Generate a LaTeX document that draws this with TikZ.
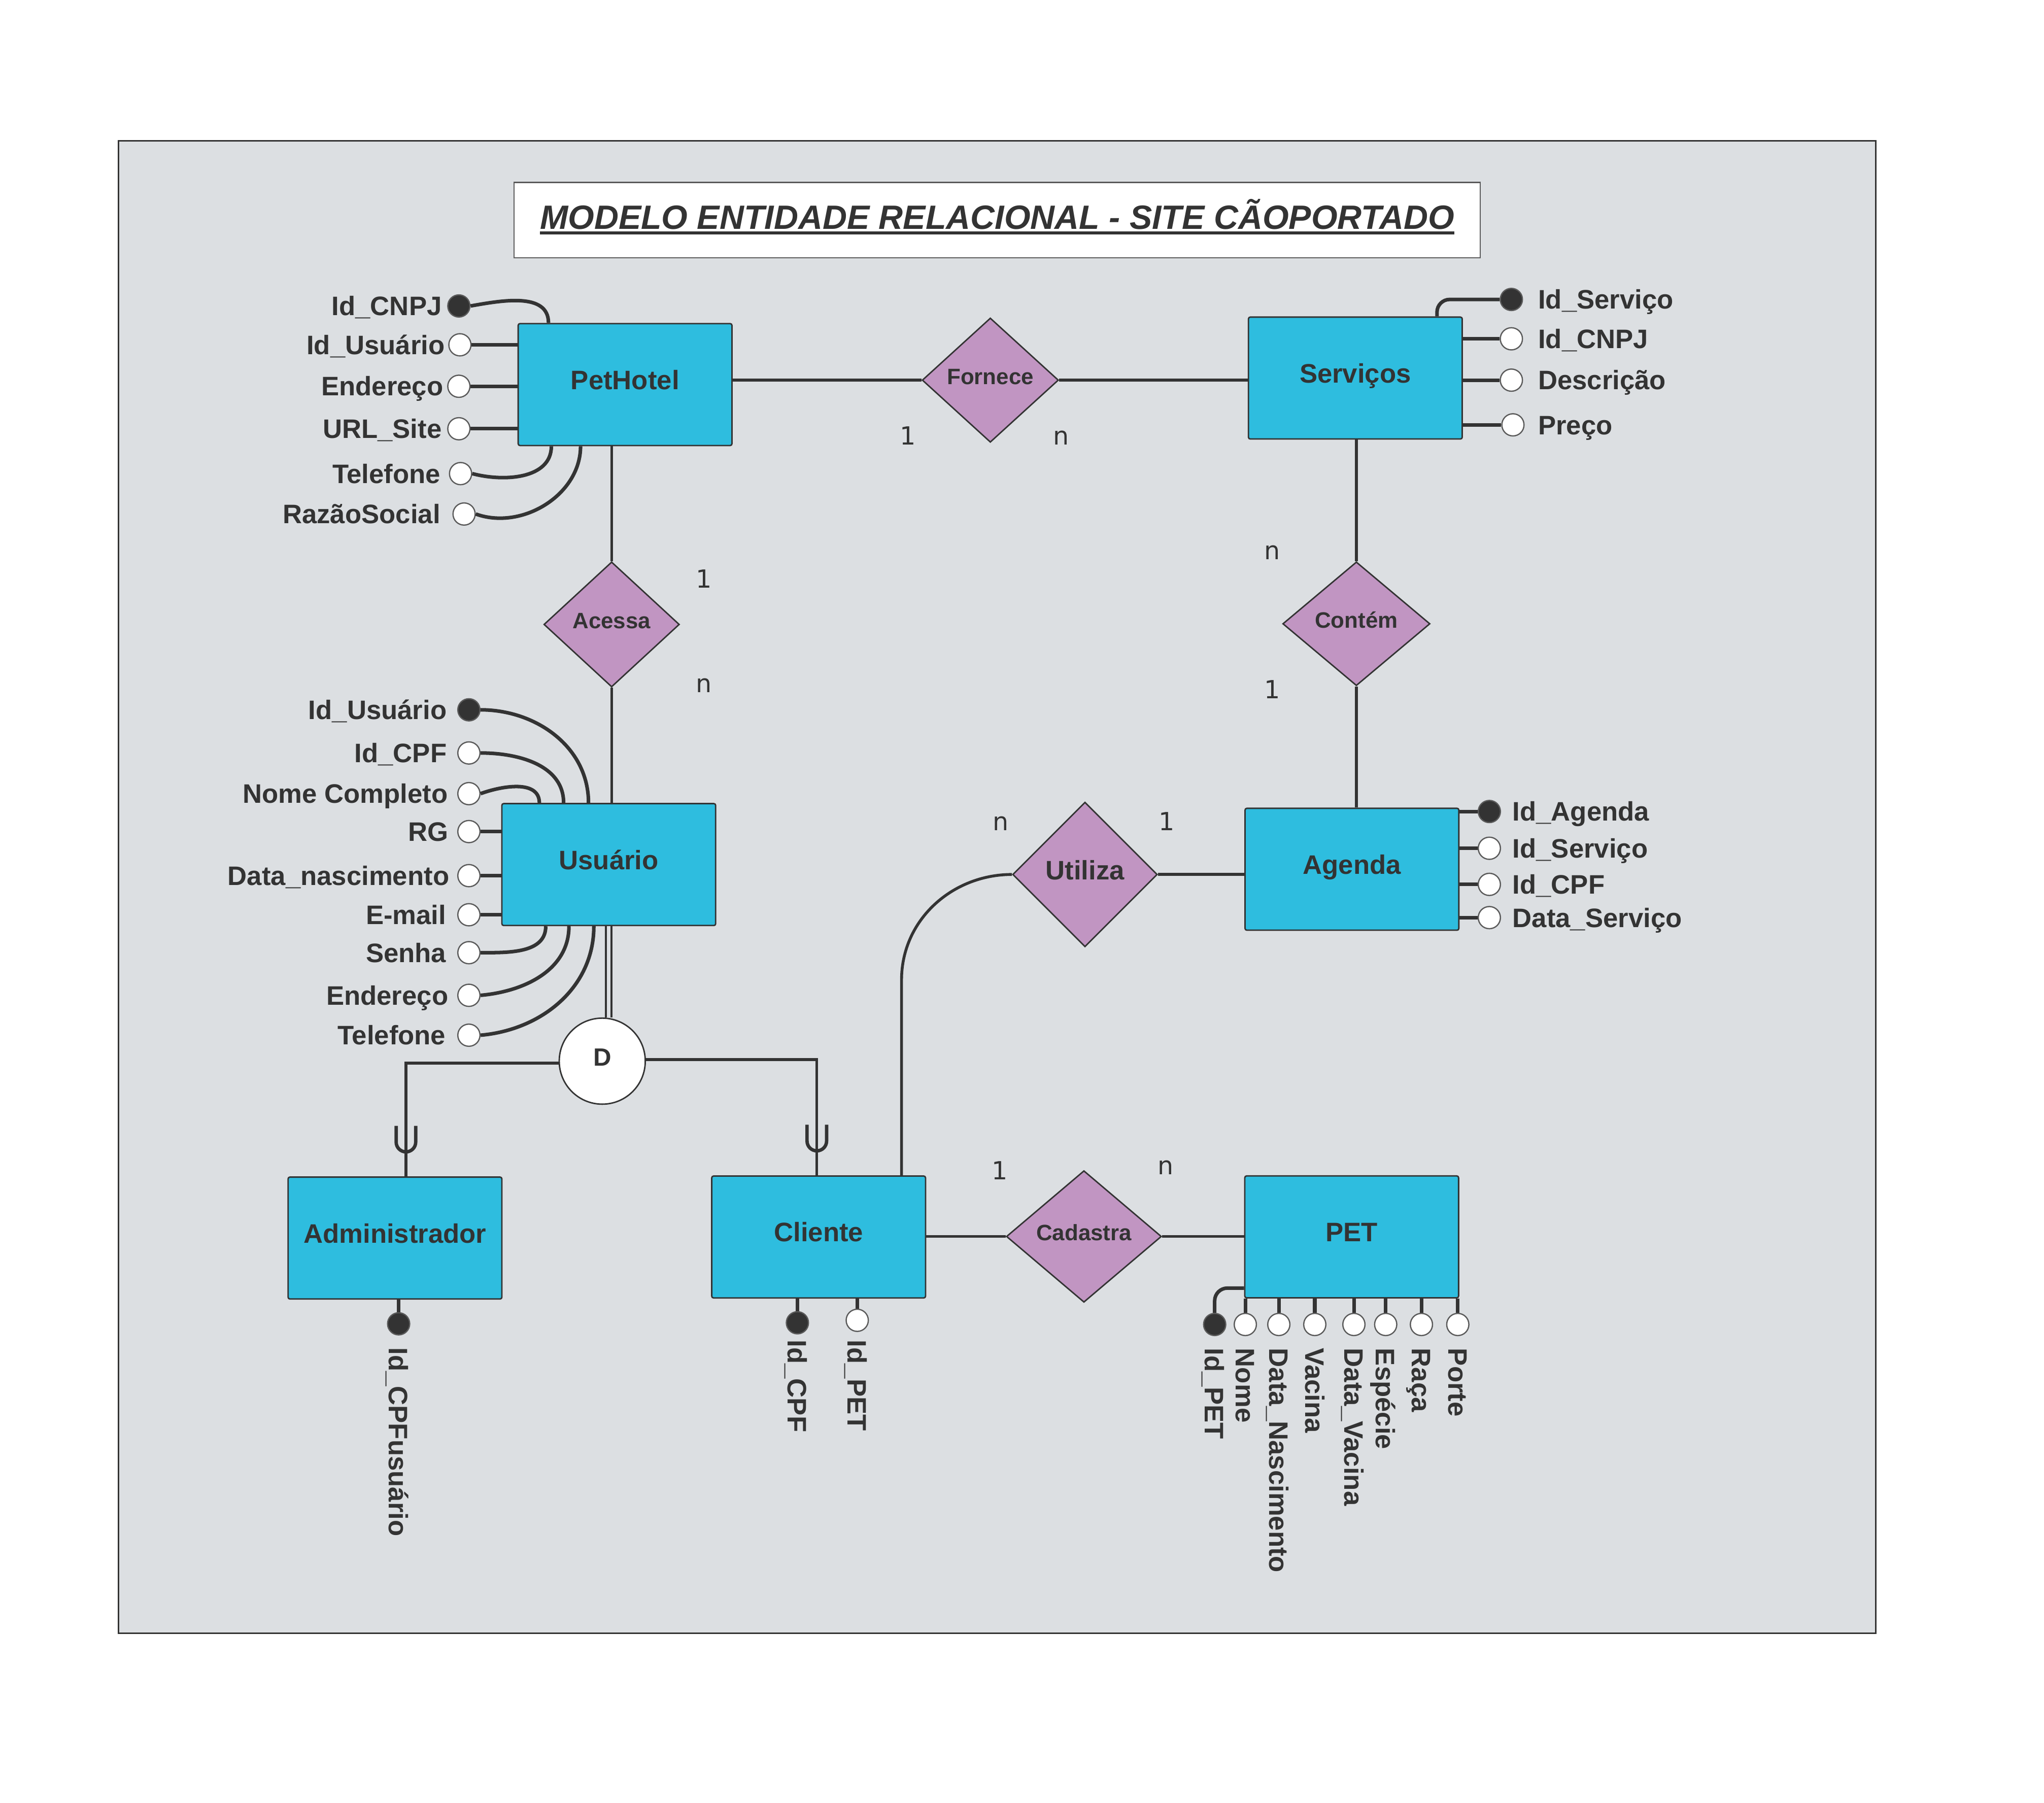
\documentclass[tikz,border=0pt]{standalone}
\usepackage{fontspec}
\setmainfont{Liberation Sans}
\newfontfamily\cardfont{DejaVu Sans}
\usepackage{xcolor}
\usepackage{tikz}
\usetikzlibrary{shapes.geometric, positioning}
\definecolor{panelgray}{RGB}{220,223,226}
\definecolor{entcyan}{RGB}{46,189,223}
\definecolor{relmauve}{RGB}{193,149,194}
\definecolor{inkgray}{RGB}{51,51,51}
\definecolor{rimgray}{RGB}{90,90,90}
\newlength{\pxu}
\setlength{\pxu}{0.02569cm}
\newsavebox{\ulbox}
\newcommand{\thickul}[1]{\sbox{\ulbox}{#1}\rlap{\rule[-0.107cm]{\wd\ulbox}{0.067cm}}\usebox{\ulbox}}
\tikzset{
  entity/.style={rectangle, rounded corners=1pt, draw=inkgray, line width=0.8pt,
                 fill=entcyan, text=inkgray, minimum width=164\pxu, minimum height=93.5\pxu,
                 font=\fontsize{15}{18}\selectfont\bfseries, text height=10.7pt, text depth=5.4pt},
  relation/.style={diamond, draw=inkgray, line width=0.8pt, fill=relmauve, text=inkgray,
                   inner sep=0pt, font=\fontsize{12.5}{15}\selectfont\bfseries,
                   text height=8.9pt, text depth=4.2pt},
  disjoint/.style={circle, draw=inkgray, line width=0.8pt, fill=white, text=inkgray,
                   inner sep=0pt, minimum size=66\pxu,
                   font=\fontsize{14}{17}\selectfont\bfseries, text height=10pt, text depth=4.4pt},
  attr/.style={circle, draw=rimgray, line width=0.7pt, fill=white, inner sep=0pt, minimum size=17\pxu},
  keyattr/.style={attr, fill=inkgray},
  lbl/.style={inner sep=0pt, text=inkgray, font=\fontsize{15}{18}\selectfont\bfseries,
              text height=10.7pt, text depth=0pt},
  vlbl/.style={lbl, rotate=-90, anchor=west},
  card/.style={inner sep=0pt, text=inkgray, anchor=base, font=\cardfont\fontsize{14}{17}\selectfont},
  link/.style={draw=inkgray, line width=1.6pt},
  attrlink/.style={draw=inkgray, line width=2pt},
  subsetmark/.style={draw=inkgray, line width=1.9pt},
  titlebox/.style={rectangle, draw=rimgray, line width=0.7pt, fill=white, text=inkgray,
                   inner sep=0pt, minimum width=741\pxu, minimum height=57.7\pxu,
                   font=\fontsize{18.9}{22}\selectfont\bfseries\itshape,
                   text height=0.465cm, text depth=0.107cm},
}
\begin{document}
\begin{tikzpicture}[x=\pxu, y=\pxu]
    \fill[white] (0,0) rectangle (1568,-1383);
    \useasboundingbox (0,0) rectangle (1568,-1383);
    \draw[fill=panelgray, draw=inkgray, line width=0.8pt] (91,-108) rectangle (1439,-1253);
    \node[titlebox] (ttl) at (764.9,-168.8) {\thickul{MODELO ENTIDADE RELACIONAL - SITE CÃOPORTADO}};

    \node[entity] (ph) at (479.5,-295) {PetHotel};
    \node[entity] (sv) at (1039.7,-290) {Serviços};
    \node[entity] (us) at (467,-663.2) {Usuário};
    \node[entity] (ag) at (1037.1,-666.8) {Agenda};
    \node[entity] (ad) at (303,-949.7) {Administrador};
    \node[entity] (cl) at (628,-948.9) {Cliente};
    \node[entity] (pe) at (1036.9,-948.8) {PET};

    \node[relation, minimum width=104.6\pxu, minimum height=95.4\pxu] (fo) at (759.7,-291.6) {Fornece};
    \node[relation, minimum width=104\pxu, minimum height=96\pxu] (ac) at (469.2,-479) {Acessa};
    \node[relation, minimum width=113\pxu, minimum height=95\pxu] (ct) at (1040.5,-478.5) {Contém};
    \node[relation, minimum width=111\pxu, minimum height=111\pxu, font=\fontsize{15}{18}\selectfont\bfseries,
          text height=10.7pt, text depth=4.8pt] (ut) at (832.3,-670.8) {Utiliza};
    \node[relation, minimum width=119\pxu, minimum height=101\pxu] (ca) at (831.5,-948.5) {Cadastra};
    \node[disjoint] (dd) at (462,-814) {D};

    \draw[link] (fo.west) -- (fo.west -| ph.east);
    \draw[link] (fo.east) -- (fo.east -| sv.west);
    \draw[link] (ac.north) -- (ac.north |- ph.south);
    \draw[link] (ac.south) -- (ac.south |- us.north);
    \draw[link] (ct.north) -- (ct.north |- sv.south);
    \draw[link] (ct.south) -- (ct.south |- ag.north);
    \draw[link] (ut.east) -- (ut.east -| ag.west);
    \draw[link] ([xshift=63.6\pxu]cl.north) -- ++(0,150) to[out=90, in=180] (ut.west);
    \draw[link] (ca.west) -- (ca.west -| cl.east);
    \draw[link] (ca.east) -- (ca.east -| pe.west);
    \draw[link, line width=1.1pt, double=panelgray, double distance=1.9pt] (us.south) -- (us.south |- dd.north);
    \draw[link] ([yshift=-1.4\pxu]dd.west) -| ([xshift=8.4\pxu]ad.north);
    \draw[link] ([yshift=1.2\pxu]dd.east) -| ([xshift=-1.4\pxu]cl.north);
    \coordinate (uad) at ([xshift=8.4\pxu, yshift=38.8\pxu]ad.north);
    \coordinate (ucl) at ([xshift=-1.4\pxu, yshift=38.8\pxu]cl.north);
    \draw[subsetmark] (uad) ++(-7.5,0) -- ++(0,-12.5) arc[start angle=180, end angle=360, radius=7.5] -- ++(0,12.5);
    \draw[subsetmark] (ucl) ++(-7.5,0) -- ++(0,-12.5) arc[start angle=180, end angle=360, radius=7.5] -- ++(0,12.5);

    \node[card] (fo1) at (696.5,-341) {1};
    \node[card] (fon) at (814,-341) {n};
    \node[card] (ac1) at (540,-451) {1};
    \node[card] (acn) at (540,-531) {n};
    \node[card] (ctn) at (976,-429) {n};
    \node[card] (ct1) at (976,-536) {1};
    \node[card] (utn) at (767.5,-637) {n};
    \node[card] (ut1) at (894.9,-637) {1};
    \node[card] (ca1) at (767,-905) {1};
    \node[card] (can) at (894,-901) {n};

    \node[keyattr] (phk) at (352,-234.7) {};
    \node[attr] (ph1) at (352.8,-264.5) {};
    \node[attr] (ph2) at (352,-296.3) {};
    \node[attr] (ph3) at (352,-328.9) {};
    \node[attr] (ph4) at (353.3,-363.3) {};
    \node[attr] (ph5) at (356,-394.3) {};
    \node[lbl, left=0.1cm of phk] (phkt) {Id\_CNPJ};
    \node[lbl, left=0.06cm of ph1] (ph1t) {Id\_Usuário};
    \node[lbl, left=0.07cm of ph2] (ph2t) {Endereço};
    \node[lbl, left=0.1cm of ph3] (ph3t) {URL\_Site};
    \node[lbl, left=0.16cm of ph4] (ph4t) {Telefone};
    \node[lbl, left=0.23cm of ph5] (ph5t) {RazãoSocial};
    \draw[attrlink] (phk.east) to[out=10, in=90] ([xshift=23.8\pxu]ph.north west);
    \draw[attrlink] (ph1.east) -- (ph1.east -| ph.west);
    \draw[attrlink] (ph2.east) -- (ph2.east -| ph.west);
    \draw[attrlink] (ph3.east) -- (ph3.east -| ph.west);
    \draw[attrlink] (ph4.east) to[out=-15, in=-90] ([xshift=26\pxu]ph.south west);
    \draw[attrlink] (ph5.east) to[out=-20, in=-90] ([xshift=48.4\pxu]ph.south west);

    \node[keyattr] (svk) at (1159.4,-229.7) {};
    \node[attr] (sv1) at (1159.4,-259.9) {};
    \node[attr] (sv2) at (1159.4,-291.6) {};
    \node[attr] (sv3) at (1160.6,-325.9) {};
    \node[lbl, right=0.29cm of svk] (svkt) {Id\_Serviço};
    \node[lbl, right=0.29cm of sv1] (sv1t) {Id\_CNPJ};
    \node[lbl, right=0.29cm of sv2] (sv2t) {Descrição};
    \node[lbl, right=0.26cm of sv3] (sv3t) {Preço};
    \draw[attrlink, rounded corners=0.25cm] ([xshift=145.2\pxu]sv.north west) |- (svk.west);
    \draw[attrlink] (sv1.west) -- (sv1.west -| sv.east);
    \draw[attrlink] (sv2.west) -- (sv2.west -| sv.east);
    \draw[attrlink] (sv3.west) -- (sv3.west -| sv.east);

    \node[keyattr] (usk) at (359.7,-544.5) {};
    \node[attr] (us1) at (359.7,-577.6) {};
    \node[attr] (us2) at (359.7,-608.8) {};
    \node[attr] (us3) at (359.7,-637.9) {};
    \node[attr] (us4) at (359.7,-671.7) {};
    \node[attr] (us5) at (359.7,-701.7) {};
    \node[attr] (us6) at (359.7,-730.8) {};
    \node[attr] (us7) at (359.7,-763.5) {};
    \node[attr] (us8) at (359.7,-794.1) {};
    \node[lbl, left=0.2cm of usk] (uskt) {Id\_Usuário};
    \node[lbl, left=0.2cm of us1] (us1t) {Id\_CPF};
    \node[lbl, left=0.18cm of us2] (us2t) {Nome Completo};
    \node[lbl, left=0.17cm of us3] (us3t) {RG};
    \node[lbl, left=0.15cm of us4] (us4t) {Data\_nascimento};
    \node[lbl, left=0.21cm of us5] (us5t) {E-mail};
    \node[lbl, left=0.21cm of us6] (us6t) {Senha};
    \node[lbl, left=0.17cm of us7] (us7t) {Endereço};
    \node[lbl, left=0.22cm of us8] (us8t) {Telefone};
    \draw[attrlink] (usk.east) to[out=0, in=90] ([xshift=67\pxu]us.north west);
    \draw[attrlink] (us1.east) to[out=0, in=90] ([xshift=47.9\pxu]us.north west);
    \draw[attrlink] (us2.east) to[out=20, in=90] ([xshift=29.3\pxu]us.north west);
    \draw[attrlink] (us3.east) -- (us3.east -| us.west);
    \draw[attrlink] (us4.east) -- (us4.east -| us.west);
    \draw[attrlink] (us5.east) -- (us5.east -| us.west);
    \draw[attrlink] (us6.east) to[out=0, in=-90] ([xshift=34.2\pxu]us.south west);
    \draw[attrlink] (us7.east) to[out=5, in=-90] ([xshift=52\pxu]us.south west);
    \draw[attrlink] (us8.east) to[out=5, in=-90] ([xshift=71.1\pxu]us.south west);

    \node[keyattr] (agk) at (1142.5,-622.5) {};
    \node[attr] (ag1) at (1142.5,-650.7) {};
    \node[attr] (ag2) at (1142.5,-678.4) {};
    \node[attr] (ag3) at (1142.5,-703.9) {};
    \node[lbl, right=0.22cm of agk] (agkt) {Id\_Agenda};
    \node[lbl, right=0.22cm of ag1] (ag1t) {Id\_Serviço};
    \node[lbl, right=0.22cm of ag2] (ag2t) {Id\_CPF};
    \node[lbl, right=0.22cm of ag3] (ag3t) {Data\_Serviço};
    \draw[attrlink] (agk.west) -- (agk.west -| ag.east);
    \draw[attrlink] (ag1.west) -- (ag1.west -| ag.east);
    \draw[attrlink] (ag2.west) -- (ag2.west -| ag.east);
    \draw[attrlink] (ag3.west) -- (ag3.west -| ag.east);

    \node[keyattr] (adk) at (305.8,-1015.5) {};
    \node[vlbl] (adkt) at ([yshift=-9\pxu]adk.south) {Id\_CPFusuário};
    \draw[attrlink] (adk.north) -- (adk.north |- ad.south);

    \node[keyattr] (clk) at (611.7,-1014.7) {};
    \node[attr] (cl1) at (657.6,-1012.8) {};
    \node[vlbl] (clkt) at ([yshift=-4\pxu]clk.south) {Id\_CPF};
    \node[vlbl] (cl1t) at ([yshift=-6\pxu]cl1.south) {Id\_PET};
    \draw[attrlink] (clk.north) -- (clk.north |- cl.south);
    \draw[attrlink] (cl1.north) -- (cl1.north |- cl.south);

    \node[keyattr] (pek) at (931.8,-1016) {};
    \node[attr] (pe1) at (955.3,-1016) {};
    \node[attr] (pe2) at (981,-1016) {};
    \node[attr] (pe3) at (1008.6,-1016) {};
    \node[attr] (pe4) at (1038.6,-1016) {};
    \node[attr] (pe5) at (1063,-1016) {};
    \node[attr] (pe6) at (1090.4,-1016) {};
    \node[attr] (pe7) at (1118.3,-1016) {};
    \node[vlbl] (pekt) at ([yshift=-9\pxu]pek.south) {Id\_PET};
    \node[vlbl] (pe1t) at ([yshift=-9\pxu]pe1.south) {Nome};
    \node[vlbl] (pe2t) at ([yshift=-9\pxu]pe2.south) {Data\_Nascimento};
    \node[vlbl] (pe3t) at ([yshift=-9\pxu]pe3.south) {Vacina};
    \node[vlbl] (pe4t) at ([yshift=-9\pxu]pe4.south) {Data\_Vacina};
    \node[vlbl] (pe5t) at ([yshift=-9\pxu]pe5.south) {Espécie};
    \node[vlbl] (pe6t) at ([yshift=-9\pxu]pe6.south) {Raça};
    \node[vlbl] (pe7t) at ([yshift=-9\pxu]pe7.south) {Porte};
    \draw[attrlink, rounded corners=0.25cm] ([yshift=8\pxu]pe.south west) -| (pek.north);
    \draw[attrlink] (pe1.north) -- (pe1.north |- pe.south);
    \draw[attrlink] (pe2.north) -- (pe2.north |- pe.south);
    \draw[attrlink] (pe3.north) -- (pe3.north |- pe.south);
    \draw[attrlink] (pe4.north) -- (pe4.north |- pe.south);
    \draw[attrlink] (pe5.north) -- (pe5.north |- pe.south);
    \draw[attrlink] (pe6.north) -- (pe6.north |- pe.south);
    \draw[attrlink] (pe7.north) -- (pe7.north |- pe.south);
  \end{tikzpicture}
\end{document}
